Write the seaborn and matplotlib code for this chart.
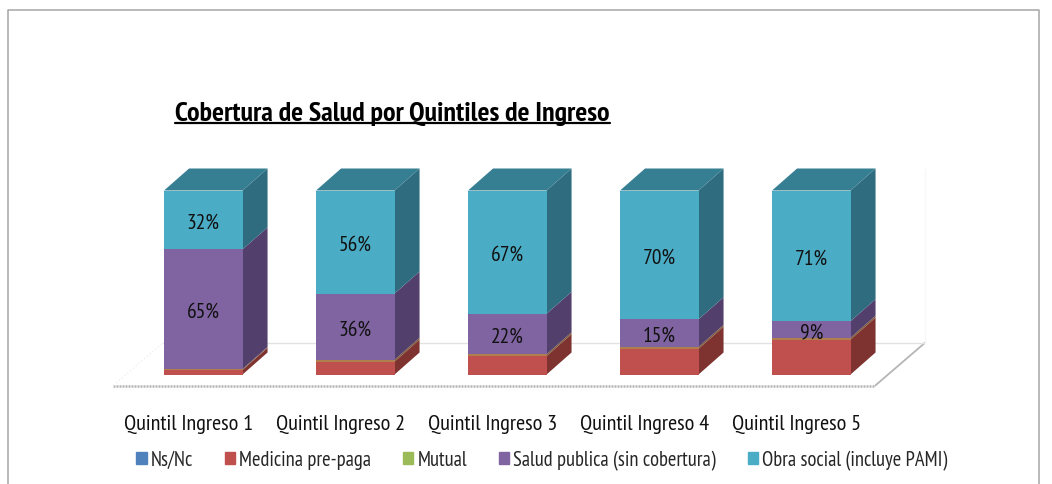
import matplotlib
matplotlib.use('Agg')
import matplotlib.pyplot as plt
from matplotlib.lines import Line2D
from matplotlib.patches import Patch
import seaborn as sns
import pandas as pd
import numpy as np

quintiles = ['Quintil Ingreso 1', 'Quintil Ingreso 2', 'Quintil Ingreso 3', 'Quintil Ingreso 4', 'Quintil Ingreso 5']
series = ['Ns/Nc', 'Medicina pre-paga', 'Mutual', 'Salud publica (sin cobertura)', 'Obra social (incluye PAMI)']
ns_nc = [0, 0, 0, 0, 0]
medicina = [2.5, 7, 10, 14, 19]
mutual = [0.5, 1, 1, 1, 1]
salud = [65, 36, 22, 15, 9]
obra = [32, 56, 67, 70, 71]
etiquetas_salud = ['65%', '36%', '22%', '15%', '9%']
etiquetas_obra = ['32%', '56%', '67%', '70%', '71%']

frente = ['#4F81BD', '#C0504D', '#B07F4E', '#8064A2', '#4BACC6']
lado = ['#3A5F8C', '#7F3331', '#7F5A38', '#533F6B', '#2F6C80']
leyenda = ['#4F81BD', '#C0504D', '#9BBB59', '#8064A2', '#4BACC6']
tapa = '#367F93'

sns.set_theme(style='white')
plt.rcParams['font.family'] = ['PT Sans Narrow', 'Archivo Narrow', 'Liberation Sans']
matplotlib.logging.getLogger('matplotlib.font_manager').setLevel(matplotlib.logging.ERROR)

# acumulados para apilar las barras
valores = np.array([ns_nc, medicina, mutual, salud, obra], dtype=float)
acum = valores.cumsum(axis=0)
df = pd.DataFrame({
    'quintil': quintiles * len(series),
    'serie': [s for s in series for _ in quintiles],
    'acum': acum.flatten(),
})

fig = plt.figure(figsize=(10.52, 4.85), dpi=100)
W, H = 1052, 485
ax = fig.add_axes([127.3 / W, 1 - 375.5 / H, 760 / W, 184 / H])

# marco exterior
fig.add_artist(Line2D([8 / W, 8 / W, 1039 / W, 1039 / W], [0, 1 - 11 / H, 1 - 11 / H, 0], color='#a6a6a6', lw=1.1))

# caras frontales, de la serie mas alta a la mas baja
sns.barplot(data=df, x='quintil', y='acum', hue='serie', hue_order=series[::-1], palette=frente[::-1],
            dodge=False, width=78.5 / 152, errorbar=None, legend=False, saturation=1, linewidth=0, ax=ax, zorder=3)

ax.set_xlim(-0.5, 4.5)
ax.set_ylim(0, 100)
ax.set_xlabel('')
ax.set_ylabel('')
ax.set_xticks([])
ax.set_yticks([])
sns.despine(ax=ax, left=True, bottom=True)
ax.patch.set_alpha(0)

# profundidad en unidades de datos
dx = 25 / 152
dy = 22 / 184 * 100
mw = 78.5 / 152 / 2

# piso y pared
px, py = 1 / 152, 100 / 184
x0 = -0.5 - 14 * px
x1 = x0 + 762 * px
y0 = -11 * py
y_back = y0 + 43 * py
ax.plot([x0, x1], [y0, y0], color='#b5b5b5', lw=1.8, ls=(0, (0.8, 0.4)), clip_on=False, zorder=1)
ax.plot([x1, x1 + 50 * px], [y0, y_back], color='#b5b5b5', lw=1.3, clip_on=False, zorder=1)
ax.plot([x0 + 50 * px, x1 + 50 * px], [y_back, y_back], color='#e2e2e2', lw=1.0, clip_on=False, zorder=1)
ax.plot([x0, x0 + 50 * px], [y0, y_back], color='#f0f0f0', lw=1.0, ls=':', clip_on=False, zorder=1)
ax.plot([x1 + 50 * px] * 2, [y_back, 100 + dy], color='#f8f8f8', lw=1.0, clip_on=False, zorder=1)

# caras laterales y tapa
for i in range(len(quintiles)):
    xr = i + mw
    base = 0
    for j in range(len(series)):
        tope = acum[j, i]
        if tope > base:
            ax.fill([xr, xr + dx, xr + dx, xr], [base, base + dy, tope + dy, tope], color=lado[j], lw=0, clip_on=False, zorder=2)
        base = tope
    ax.fill([i - mw, i + mw, xr + dx, i - mw + dx], [100, 100, 100 + dy, 100 + dy], color=tapa, lw=0, clip_on=False, zorder=2)

# etiquetas de datos
for i in range(len(quintiles)):
    ym = acum[2, i] + salud[i] / 2
    ax.annotate(etiquetas_salud[i], (i, ym), xytext=(0, -1.5), textcoords='offset points', ha='center', va='center',
                fontsize=15.5, color='#111111', zorder=5)
    ym = acum[3, i] + obra[i] / 2
    ax.annotate(etiquetas_obra[i], (i, ym), xytext=(0, -1.5), textcoords='offset points', ha='center', va='center',
                fontsize=15.5, color='#111111', zorder=5)

# categorias
for i, q in enumerate(quintiles):
    ax.annotate(q, (i, 0), xytext=(-15 * 0.72, -49 * 0.72), textcoords='offset points',
                ha='center', va='center', fontsize=16, color='#111111', annotation_clip=False)

# titulo subrayado
tit = fig.text(175 / W, 1 - 113.5 / H, 'Cobertura de Salud por Quintiles de Ingreso', fontsize=20.2, fontweight='bold',
               color='black', ha='left', va='center')
fig.canvas.draw()
bb = tit.get_window_extent()
fig.add_artist(Line2D([bb.x0 / W, bb.x1 / W], [1 - 124 / H] * 2, color='black', lw=1.6))

# leyenda
handles = [Patch(color=c, label=s) for c, s in zip(leyenda, series)]
fig.legend(handles=handles, loc='center left', bbox_to_anchor=(136 / W, 1 - 461 / H), ncol=5, frameon=False,
           fontsize=14.8, handlelength=0.52, handleheight=0.52, handletextpad=0.2, columnspacing=1.53, borderpad=0, borderaxespad=0)

fig.savefig('out.png', dpi=100)
